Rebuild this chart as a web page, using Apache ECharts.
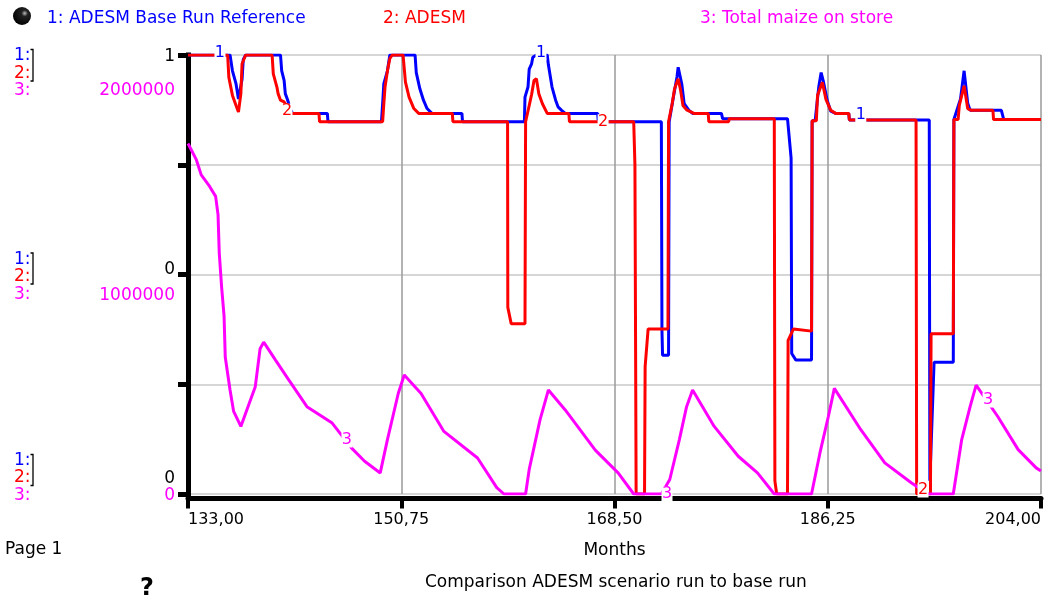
<!DOCTYPE html>
<html>
<head>
<meta charset="utf-8">
<title>Comparison ADESM scenario run to base run</title>
<script src="https://cdn.jsdelivr.net/npm/echarts@6/dist/echarts.min.js"></script>
<style>
  html, body { margin: 0; padding: 0; background: #fff; }
  #chart { width: 1050px; height: 600px; }
</style>
</head>
<body>
<div id="chart"></div>
<script>
// series names
const seriesNames = ['ADESM Base Run Reference', 'ADESM', 'Total maize on store']

// 1: ADESM Base Run Reference (0..1 scale)
const baseMonths = [133.0, 136.5, 136.7, 137.0, 137.2, 137.5, 137.6, 137.8, 140.7, 140.8, 141.0, 141.1, 141.3, 141.5, 141.7, 144.6, 144.65,
  149.1, 149.2, 149.3, 149.6, 149.8, 151.9, 152.0, 152.3, 152.6, 152.9, 153.3, 155.8, 155.85, 161.0, 161.05, 161.3, 161.4, 161.6, 161.7,
  162.0, 162.9, 163.0, 163.3, 163.6, 163.8, 164.1, 164.4, 167.1, 167.15, 172.4, 172.45, 172.5, 173.0, 173.05, 173.2, 173.4, 173.7, 173.8,
  174.1, 174.3, 174.7, 175.0, 177.4, 177.5, 182.9, 183.2, 183.25, 183.6, 184.9, 184.95, 185.2, 185.5, 185.7, 185.8, 185.9, 186.2, 186.5,
  186.9, 188.0, 188.05, 194.7, 194.75, 195.1, 196.7, 196.75, 197.3, 197.6, 197.9, 198.1, 200.7, 200.9, 204.0]
const baseValues = [1.0, 1.0, 0.964, 0.934, 0.900, 0.945, 0.990, 1.0, 1.0, 0.964, 0.942, 0.912, 0.897, 0.878, 0.867, 0.867, 0.848,
  0.848, 0.889, 0.935, 0.964, 1.0, 1.0, 0.960, 0.923, 0.897, 0.878, 0.867, 0.867, 0.848, 0.848, 0.904, 0.927, 0.968, 0.980, 0.995,
  1.0, 1.0, 0.977, 0.927, 0.897, 0.882, 0.874, 0.867, 0.867, 0.848, 0.848, 0.373, 0.316, 0.316, 0.848, 0.848, 0.904, 0.950, 0.972,
  0.934, 0.889, 0.874, 0.867, 0.867, 0.855, 0.855, 0.765, 0.320, 0.305, 0.305, 0.850, 0.850, 0.927, 0.960, 0.964, 0.938, 0.897, 0.872,
  0.867, 0.867, 0.852, 0.852, 0.030, 0.300, 0.300, 0.853, 0.900, 0.964, 0.890, 0.874, 0.874, 0.853, 0.853]

// 2: ADESM (0..1 scale)
const adesmMonths = [133.0, 136.3, 136.4, 136.7, 137.0, 137.2, 137.4, 137.5, 137.8, 140.0, 140.1, 140.4, 140.5, 140.7, 141.0, 141.5,
  143.9, 143.95, 149.2, 149.3, 149.4, 149.6, 149.8, 150.0, 150.9, 151.1, 151.4, 151.8, 152.2, 155.0, 155.05, 159.6, 159.62, 159.9,
  161.05, 161.1, 161.4, 161.6, 161.8, 162.0, 162.2, 162.5, 162.9, 164.7, 164.75, 170.1, 170.2, 170.3, 171.0, 171.05, 171.3, 172.95,
  173.0, 173.3, 173.5, 173.8, 174.0, 174.2, 174.5, 174.9, 175.1, 176.3, 176.35, 178.0, 178.05, 181.8, 181.85, 182.0, 182.9, 182.95,
  183.4, 184.9, 184.95, 185.3, 185.4, 185.8, 186.1, 186.5, 186.9, 188.0, 188.05, 193.6, 193.65, 194.8, 194.85, 196.7, 196.75, 197.1,
  197.2, 197.6, 197.9, 198.2, 200.0, 200.05, 204.0]
const adesmValues = [1.0, 1.0, 0.949, 0.908, 0.885, 0.870, 0.912, 0.980, 1.0, 1.0, 0.957, 0.927, 0.912, 0.897, 0.893, 0.867,
  0.867, 0.848, 0.848, 0.889, 0.927, 0.964, 0.992, 1.0, 1.0, 0.938, 0.904, 0.878, 0.867, 0.867, 0.848, 0.848, 0.425, 0.388,
  0.388, 0.848, 0.885, 0.910, 0.942, 0.946, 0.912, 0.889, 0.867, 0.867, 0.848, 0.848, 0.750, 0.0, 0.0, 0.290, 0.376, 0.376,
  0.848, 0.889, 0.923, 0.946, 0.920, 0.885, 0.875, 0.870, 0.867, 0.867, 0.848, 0.848, 0.855, 0.855, 0.030, 0.0, 0.0, 0.350,
  0.376, 0.371, 0.850, 0.850, 0.908, 0.938, 0.899, 0.874, 0.867, 0.867, 0.852, 0.852, 0.0, 0.0, 0.365, 0.365, 0.853, 0.853,
  0.885, 0.930, 0.878, 0.874, 0.874, 0.853, 0.853]

// 3: Total maize on store
const maizeMonths = [133.0, 133.7, 134.1, 134.8, 135.3, 135.5, 135.6, 135.8, 136.0, 136.1, 136.5, 136.8, 137.4, 138.1, 138.6, 139.0,
  139.3, 140.3, 141.4, 142.9, 145.0, 146.6, 147.7, 149.0, 149.6, 150.5, 151.0, 152.4, 154.3, 157.1, 158.7, 159.3, 161.1, 161.4,
  162.3, 163.0, 164.4, 166.9, 168.8, 170.1, 172.4, 173.1, 173.9, 174.5, 175.0, 176.8, 178.8, 180.4, 181.8, 184.9, 185.6, 186.3,
  186.8, 189.0, 191.0, 193.2, 194.6, 196.7, 197.4, 198.1, 198.6, 200.4, 202.1, 203.6, 204.0]
const maizeValues = [1597000, 1522000, 1454000, 1401000, 1356000, 1273000, 1100000, 941000, 813000, 624000, 474000, 376000, 308000,
  413000, 489000, 662000, 692000, 609000, 519000, 398000, 323000, 210000, 149000, 96000, 248000, 458000, 542000, 458000, 285000,
  164000, 29000, 0, 0, 112000, 338000, 474000, 383000, 200000, 96000, 0, 0, 66000, 248000, 398000, 474000, 308000, 172000, 96000,
  0, 0, 187000, 353000, 481000, 293000, 142000, 51000, 0, 0, 248000, 398000, 496000, 353000, 202000, 119000, 105000]

// axis ticks
const monthTicks = [133, 150.75, 168.5, 186.25, 204]
const leftTicks = [1, 0.5, 0]
const leftTickText = ['1', '0', '0']
const maizeTicks = [2000000, 1000000, 0]
const maizeTickText = ['2000000', '1000000', '0']

// on-line curve numbers [month, value]
const baseLabels = [[135.66, 1.0], [162.38, 1.0], [189.0, 0.852]]
const adesmLabels = [[141.24, 0.872], [167.55, 0.848], [194.18, 0]]
const maizeLabels = [[146.23, 246000], [172.87, 0], [199.59, 428000]]

const colors = ['#0000ff', '#ff0000', '#ff00ff']
const font = 'DejaVu Sans'

const zip = (xs, ys) => xs.map((x, i) => [x, ys[i]])

const chart = echarts.init(document.getElementById('chart'), null, { renderer: 'canvas' })

// little vertical nudges of the stacked axis labels (Stella layout)
const leftShift = [2, -5, -15]
const maizeShift = [36, 21, 2]
const shiftStyle = (d, color) => ({
  color: color,
  fontSize: 17,
  fontFamily: font,
  padding: d >= 0 ? [2 * d, 0, 0, 0] : [0, 0, -2 * d, 0]
})
const leftRich = {}
leftShift.forEach((d, i) => { leftRich['r' + i] = shiftStyle(d, '#000') })
const maizeRich = {}
maizeShift.forEach((d, i) => { maizeRich['r' + i] = shiftStyle(d, colors[2]) })

const markLabels = (list, color, text, offsets) => ({
  symbol: 'rect',
  symbolSize: [11, 15],
  itemStyle: { color: '#fff' },
  label: { show: true, position: 'inside', color: color, fontSize: 16, fontFamily: font, formatter: text },
  data: list.map((p, i) => ({ coord: p, symbolOffset: [0, offsets[i]] }))
})

// left key column  "1: 2: 3:"
const keyGroups = [[56.5, 74, 91], [260, 277, 295], [461.5, 478.5, 496.5]]
const graphics = []
keyGroups.forEach(g => {
  g.forEach((y, i) => {
    graphics.push({
      type: 'text', left: 14, top: y - 9,
      style: { text: (i + 1) + ':', fill: colors[i], fontSize: 17, fontFamily: font }
    })
  })
  graphics.push({
    type: 'polyline',
    shape: { points: [[30.5, g[0] - 7], [33, g[0] - 7], [33, g[1] + 7], [30.5, g[1] + 7]] },
    style: { stroke: '#000', lineWidth: 1.3, fill: null }
  })
})
graphics.push({
  type: 'circle', shape: { cx: 22, cy: 16, r: 9 },
  style: {
    fill: new echarts.graphic.RadialGradient(0.65, 0.35, 0.7, [
      { offset: 0, color: '#bbb' }, { offset: 0.25, color: '#222' }, { offset: 1, color: '#000' }
    ])
  }
})
graphics.push({
  type: 'text', left: 5, top: 541,
  style: { text: 'Page 1', fill: '#000', fontSize: 17, fontFamily: font }
})
graphics.push({
  type: 'text', left: 140, top: 577,
  style: { text: '?', fill: '#000', fontSize: 24, fontWeight: 'bold', fontFamily: font }
})

const legendLeft = [37, 373, 690]

chart.setOption({
  animation: false,
  backgroundColor: '#fff',
  textStyle: { fontFamily: font },
  title: {
    text: 'Comparison ADESM scenario run to base run',
    left: 420,
    top: 569,
    textStyle: { fontSize: 17, fontWeight: 'normal', color: '#000', fontFamily: font }
  },
  legend: seriesNames.map((name, i) => ({
    data: [name],
    left: legendLeft[i],
    top: 5,
    icon: 'rect',
    itemWidth: 0,
    itemHeight: 0,
    formatter: n => (i + 1) + ': ' + n,
    textStyle: { color: colors[i], fontSize: 17, fontFamily: font }
  })),
  grid: { left: 188, right: 9, top: 55, bottom: 106, containLabel: false },
  xAxis: {
    type: 'value',
    min: 133,
    max: 204,
    interval: 17.75,
    offset: 4.5,
    name: 'Months',
    nameLocation: 'middle',
    nameGap: 44,
    nameTextStyle: { color: '#000', fontSize: 17, fontFamily: font },
    axisLine: { onZero: false, lineStyle: { color: '#000', width: 5 } },
    axisTick: { length: 10, lineStyle: { color: '#000', width: 4 } },
    axisLabel: {
      color: '#000', fontSize: 16, margin: 13, fontFamily: font,
      alignMinLabel: 'left', alignMaxLabel: 'right',
      formatter: v => monthTicks.some(t => Math.abs(t - v) < 1e-6) ? v.toFixed(2).replace('.', ',') : ''
    },
    splitLine: { show: true, lineStyle: { color: '#9a9a9a', width: 1.5 } }
  },
  yAxis: [
    {
      type: 'value',
      min: 0,
      max: 1,
      interval: 0.25,
      axisLine: { show: true, lineStyle: { color: '#000', width: 5, cap: 'square' } },
      axisTick: { show: true, length: 10, lineStyle: { color: '#000', width: 5 } },
      axisLabel: {
        margin: 13,
        formatter: v => {
          const i = leftTicks.findIndex(t => Math.abs(t - v) < 1e-9)
          return i < 0 ? '' : '{r' + i + '|' + leftTickText[i] + '}'
        },
        rich: leftRich
      },
      splitLine: { show: true, lineStyle: { color: '#c8c8c8', width: 1.5 } }
    },
    {
      type: 'value',
      min: 0,
      max: 2000000,
      interval: 500000,
      position: 'left',
      axisLine: { show: false },
      axisTick: { show: false },
      axisLabel: {
        margin: 13,
        formatter: v => {
          const i = maizeTicks.indexOf(v)
          return i < 0 ? '' : '{r' + i + '|' + maizeTickText[i] + '}'
        },
        rich: maizeRich
      },
      splitLine: { show: false }
    }
  ],
  graphic: graphics,
  series: [
    {
      name: seriesNames[0],
      type: 'line',
      yAxisIndex: 0,
      data: zip(baseMonths, baseValues),
      showSymbol: false,
      lineStyle: { color: colors[0], width: 3 },
      itemStyle: { color: colors[0] },
      markPoint: markLabels(baseLabels, colors[0], '1', [-2, -2, -5])
    },
    {
      name: seriesNames[1],
      type: 'line',
      yAxisIndex: 0,
      data: zip(adesmMonths, adesmValues),
      showSymbol: false,
      lineStyle: { color: colors[1], width: 3 },
      itemStyle: { color: colors[1] },
      markPoint: markLabels(adesmLabels, colors[1], '2', [0, 0, -4])
    },
    {
      name: seriesNames[2],
      type: 'line',
      yAxisIndex: 1,
      data: zip(maizeMonths, maizeValues),
      showSymbol: false,
      lineStyle: { color: colors[2], width: 3 },
      itemStyle: { color: colors[2] },
      markPoint: markLabels(maizeLabels, colors[2], '3', [0, 0, 0])
    }
  ]
})
</script>
</body>
</html>
